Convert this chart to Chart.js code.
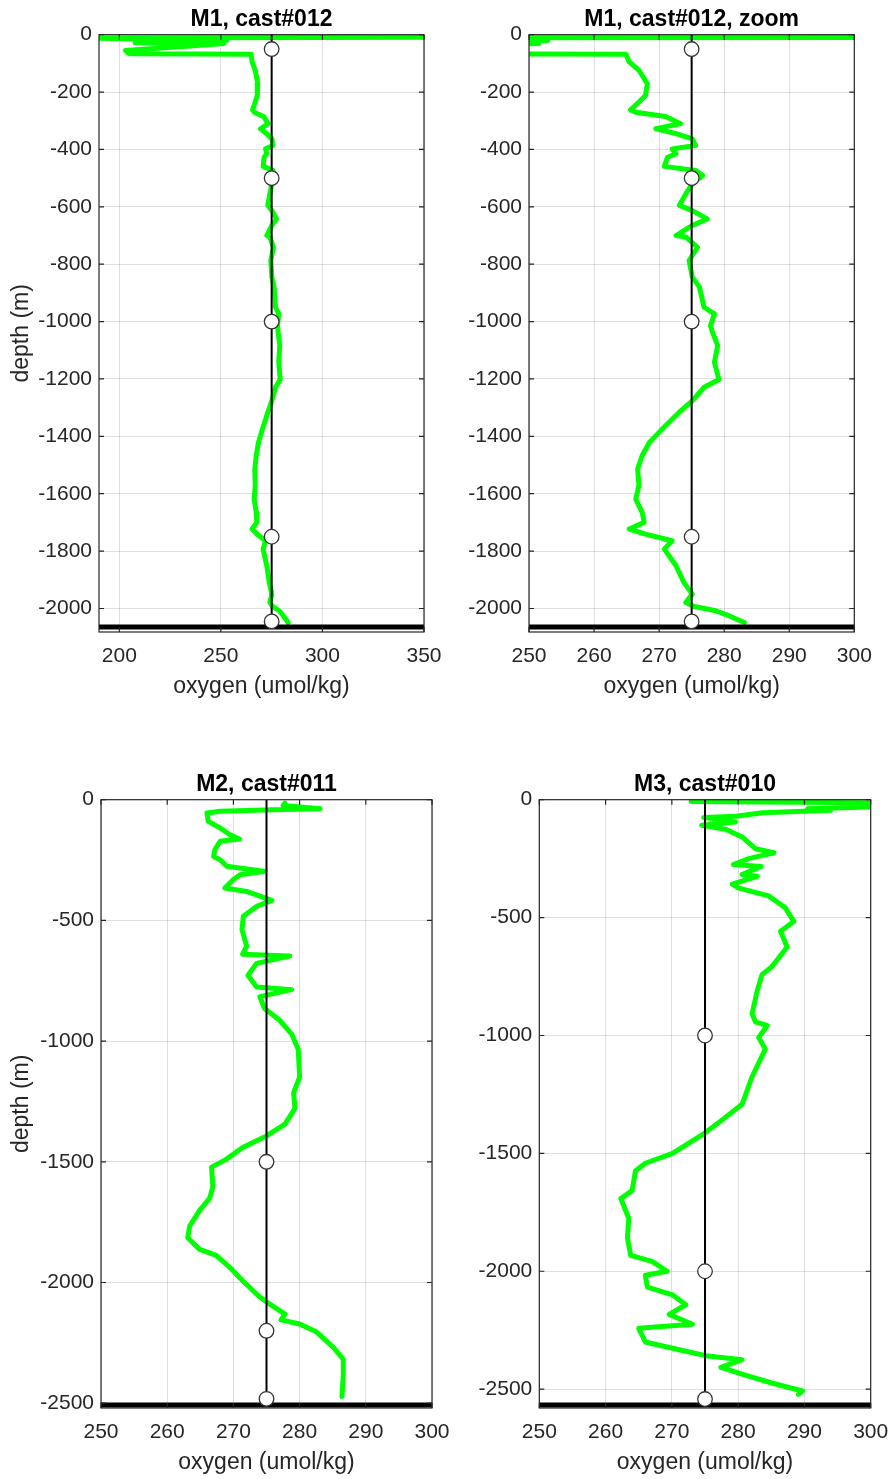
<!DOCTYPE html>
<html>
<head>
<meta charset="utf-8">
<script src="https://cdn.jsdelivr.net/npm/chart.js@4.4.1/dist/chart.umd.min.js"></script>
<style>
  html, body { margin: 0; padding: 0; background: #fff; }
  body { width: 892px; height: 1479px; position: relative; overflow: hidden; }
  canvas { position: absolute; }
</style>
</head>
<body>
<canvas id="m1"></canvas>
<canvas id="m1zoom"></canvas>
<canvas id="m2"></canvas>
<canvas id="m3"></canvas>
<script>
// --- Data ---
const refOxygen = 275; // mooring line / instrument reference

const m1Oxygen = [400, 185, 252.9, 207.8, 251.5, 235, 203, 213, 204, 205, 264.9, 265.4, 266.9, 268.2, 267.9, 266.9,
  265.6, 266.4, 271, 273.3, 269.5, 272.6, 275.1, 275.6, 272, 272.6, 271.3, 270.8, 275.6, 276.7, 275.1, 274.1,
  273.1, 275.1, 277.4, 275.1, 272.6, 274.1, 275.9, 274.6, 275.1, 276.2, 276.9, 278.5, 277.9, 278.2, 279, 278.5,
  279.2, 276.9, 275.1, 273.1, 270.5, 268.5, 267.4, 266.7, 266.9, 266.4, 267.4, 267.7, 265.4, 267.9, 272, 270.8,
  272.6, 273.8, 275.1, 274.1, 275.4, 278.7, 280.8, 283.1];
const m1Depth = [-8, -12, -20, -28, -31, -39, -55, -52, -62, -66, -68, -95, -124, -171, -212, -235,
  -262, -270, -285, -310, -328, -345, -363, -386, -398, -415, -427, -459, -473, -491, -520, -555,
  -595, -613, -642, -665, -700, -705, -741, -787, -845, -880, -950, -973, -1014, -1037, -1084, -1142,
  -1202, -1229, -1276, -1316, -1374, -1421, -1467, -1514, -1572, -1619, -1665, -1700, -1723, -1741, -1764, -1793,
  -1851, -1909, -1950, -1979, -1993, -2008, -2026, -2049];
const m1Instruments = [-50, -500, -1000, -1750, -2045];
const m1Seafloor = -2065;

const m2Oxygen = [277.8, 277.5, 283.1, 276, 268, 266, 266.2, 268, 269.5, 270.9, 268, 267.2, 267, 268, 269, 274.8,
  271, 270, 268.7, 272, 275.8, 273.5, 271.5, 271.3, 272, 271.4, 278.5, 273.5, 272.2, 273.5, 278.8, 274,
  274.7, 277, 278.8, 279.8, 280, 279.1, 279.3, 277.8, 275, 271.4, 268.9, 266.7, 266.9, 266.4, 264.9, 263.4,
  263.1, 264.9, 267.4, 269.7, 271.4, 273.9, 275.5, 277.8, 277.2, 280, 282.5, 285.1, 286.6, 286.6, 286.4];
const m2Depth = [-14, -24, -37, -42, -48, -55, -90, -117, -145, -163, -172, -207, -235, -249, -276, -297,
  -311, -331, -366, -380, -417, -442, -483, -538, -607, -640, -648, -678, -727, -776, -787, -816,
  -865, -914, -971, -1035, -1149, -1214, -1279, -1344, -1393, -1441, -1490, -1522, -1604, -1652, -1701, -1766,
  -1815, -1863, -1888, -1944, -1993, -2058, -2090, -2131, -2155, -2172, -2204, -2269, -2318, -2383, -2472];
const m2Instruments = [-1500, -2200, -2482];
const m2Seafloor = -2508;

const m3Oxygen = [272.9, 305, 305, 290.5, 294, 283.7, 279.7, 274.8, 279.6, 274.5, 278.1, 280.6, 282.6, 285.4, 281.6, 279.3,
  283.5, 280.6, 282.9, 279.1, 280.1, 284.6, 287.1, 288.4, 286.4, 287.4, 285.1, 283.6, 282.9, 282.1, 282.6, 284.4,
  283.1, 284.1, 282.1, 280.6, 277.6, 274.8, 270.1, 266, 264.5, 264, 262.3, 263.5, 263.3, 263.8, 267, 269.3,
  266, 266.3, 270.1, 272.1, 269.6, 273.1, 265, 266, 271.1, 275.1, 280.6, 277.4, 281.2, 285.2, 289.7, 289.1];
const m3Depth = [-8, -14, -28, -38, -45, -55, -70, -75, -95, -108, -125, -158, -208, -225, -250, -275,
  -283, -317, -325, -358, -375, -408, -458, -517, -558, -625, -708, -742, -808, -908, -942, -958,
  -1008, -1058, -1175, -1292, -1358, -1417, -1500, -1542, -1575, -1658, -1692, -1775, -1858, -1933, -1958, -2000,
  -2017, -2067, -2100, -2142, -2183, -2225, -2242, -2300, -2333, -2358, -2375, -2408, -2442, -2475, -2508, -2522];
const m3Instruments = [-1000, -2000, -2542];
const m3Seafloor = -2567;

// axis limits and tick values
const wideOxyRange = [190, 350];
const wideOxyTicks = [200, 250, 300, 350];
const zoomOxyRange = [250, 300];
const zoomOxyTicks = [250, 260, 270, 280, 290, 300];
const m1DepthRange = [-2082, 0];
const m1DepthTicks = [0, -200, -400, -600, -800, -1000, -1200, -1400, -1600, -1800, -2000];
const m2DepthRange = [-2520, 0];
const m3DepthRange = [-2580, 0];
const deepDepthTicks = [0, -500, -1000, -1500, -2000, -2500];

// --- Styling ---
Chart.defaults.font.family = '"Liberation Sans", Arial, Helvetica, sans-serif';
const axisColor = '#262626';
const gridColor = 'rgba(38,38,38,0.15)';
const TITLE_H = 34.7;
const XAXIS_H = 71;

// MATLAB-like box with inward ticks
const axesBox = {
  id: 'axesBox',
  afterDatasetsDraw(chart) {
    const { ctx, chartArea: a, scales: { x, y } } = chart;
    ctx.save();
    ctx.strokeStyle = axisColor;
    ctx.lineWidth = 1.2;
    ctx.strokeRect(a.left, a.top, a.right - a.left, a.bottom - a.top);
    ctx.beginPath();
    x.ticks.forEach(t => {
      const px = x.getPixelForValue(t.value);
      ctx.moveTo(px, a.bottom); ctx.lineTo(px, a.bottom - 5);
      ctx.moveTo(px, a.top); ctx.lineTo(px, a.top + 5);
    });
    y.ticks.forEach(t => {
      const py = y.getPixelForValue(t.value);
      ctx.moveTo(a.left, py); ctx.lineTo(a.left + 5, py);
      ctx.moveTo(a.right, py); ctx.lineTo(a.right - 5, py);
    });
    ctx.stroke();
    ctx.restore();
  }
};

function makePanel(id, p) {
  const canvas = document.getElementById(id);
  const width = p.canvasRight - p.canvasLeft;
  const height = TITLE_H + (p.area.bottom - p.area.top) + XAXIS_H;
  canvas.width = width;
  canvas.height = height;
  canvas.style.left = p.canvasLeft + 'px';
  canvas.style.top = (p.area.top - TITLE_H) + 'px';
  const yAxisW = p.area.left - p.canvasLeft;
  const padRight = p.canvasRight - p.area.right;

  const profile = p.oxygen.map((v, i) => ({ x: v, y: p.depth[i] }));

  return new Chart(canvas, {
    type: 'scatter',
    data: {
      datasets: [
        {
          data: p.instruments.map(d => ({ x: refOxygen, y: d })),
          showLine: false,
          pointRadius: 7.3,
          pointBackgroundColor: '#fff',
          pointBorderColor: '#333',
          pointBorderWidth: 1.3,
          order: 0
        },
        {
          data: [{ x: refOxygen, y: 0 }, { x: refOxygen, y: p.instruments[p.instruments.length - 1] }],
          showLine: true,
          borderColor: '#000',
          borderWidth: 2,
          pointRadius: 0,
          order: 1
        },
        {
          data: [{ x: p.xRange[0], y: p.seafloor }, { x: p.xRange[1], y: p.seafloor }],
          showLine: true,
          borderColor: '#000',
          borderWidth: 5,
          pointRadius: 0,
          order: 2
        },
        {
          data: profile,
          showLine: true,
          borderColor: '#00ff00',
          borderWidth: 5,
          borderJoinStyle: 'round',
          borderCapStyle: 'round',
          pointRadius: 0,
          order: 3
        }
      ]
    },
    options: {
      responsive: false,
      animation: false,
      devicePixelRatio: 1,
      layout: { padding: { left: 0, right: padRight, top: 0, bottom: 0 } },
      plugins: {
        legend: { display: false },
        tooltip: { enabled: false },
        title: {
          display: true,
          text: p.title,
          fullSize: false,
          color: '#000',
          font: { size: 23, weight: 'bold' },
          padding: { top: TITLE_H - 28.8, bottom: 1.2 }
        }
      },
      scales: {
        x: {
          type: 'linear',
          position: 'bottom',
          min: p.xRange[0],
          max: p.xRange[1],
          afterBuildTicks: s => { s.ticks = p.xTicks.map(v => ({ value: v })); },
          afterFit: s => { s.height = XAXIS_H; s.paddingLeft = 0; s.paddingRight = 0; },
          grid: { color: gridColor, drawTicks: false },
          border: { display: false },
          ticks: { padding: 11.5, color: axisColor, font: { size: 21 }, maxRotation: 0, autoSkip: false, callback: v => String(v) },
          title: { display: true, text: 'oxygen (umol/kg)', color: axisColor, font: { size: 23 }, padding: { top: 0, bottom: XAXIS_H - 55 - 13.8 } }
        },
        y: {
          type: 'linear',
          position: 'left',
          min: p.yRange[0],
          max: p.yRange[1],
          afterBuildTicks: s => { s.ticks = p.yTicks.map(v => ({ value: v })); },
          afterFit: s => { s.width = yAxisW; },
          grid: { color: gridColor, drawTicks: false },
          border: { display: false },
          ticks: { padding: 7, color: axisColor, font: { size: 21 }, autoSkip: false, callback: v => String(v) },
          title: { display: p.yTitle, text: 'depth (m)', color: axisColor, font: { size: 23 }, padding: { top: 8.2, bottom: 0 } }
        }
      }
    },
    plugins: [axesBox]
  });
}

makePanel('m1', {
  title: 'M1, cast#012', canvasLeft: 0, canvasRight: 446,
  area: { left: 99, right: 424, top: 34.7, bottom: 632.7 },
  xRange: wideOxyRange, xTicks: wideOxyTicks, yRange: m1DepthRange, yTicks: m1DepthTicks, yTitle: true,
  oxygen: m1Oxygen, depth: m1Depth, instruments: m1Instruments, seafloor: m1Seafloor
});
makePanel('m1zoom', {
  title: 'M1, cast#012, zoom', canvasLeft: 446, canvasRight: 892,
  area: { left: 529, right: 854.3, top: 34.7, bottom: 632.7 },
  xRange: zoomOxyRange, xTicks: zoomOxyTicks, yRange: m1DepthRange, yTicks: m1DepthTicks, yTitle: false,
  oxygen: m1Oxygen, depth: m1Depth, instruments: m1Instruments, seafloor: m1Seafloor
});
makePanel('m2', {
  title: 'M2, cast#011', canvasLeft: 0, canvasRight: 462,
  area: { left: 101, right: 432, top: 800, bottom: 1408.3 },
  xRange: zoomOxyRange, xTicks: zoomOxyTicks, yRange: m2DepthRange, yTicks: deepDepthTicks, yTitle: true,
  oxygen: m2Oxygen, depth: m2Depth, instruments: m2Instruments, seafloor: m2Seafloor
});
makePanel('m3', {
  title: 'M3, cast#010', canvasLeft: 446, canvasRight: 892,
  area: { left: 539.3, right: 870.7, top: 800, bottom: 1408.3 },
  xRange: zoomOxyRange, xTicks: zoomOxyTicks, yRange: m3DepthRange, yTicks: deepDepthTicks, yTitle: false,
  oxygen: m3Oxygen, depth: m3Depth, instruments: m3Instruments, seafloor: m3Seafloor
});
</script>
</body>
</html>
